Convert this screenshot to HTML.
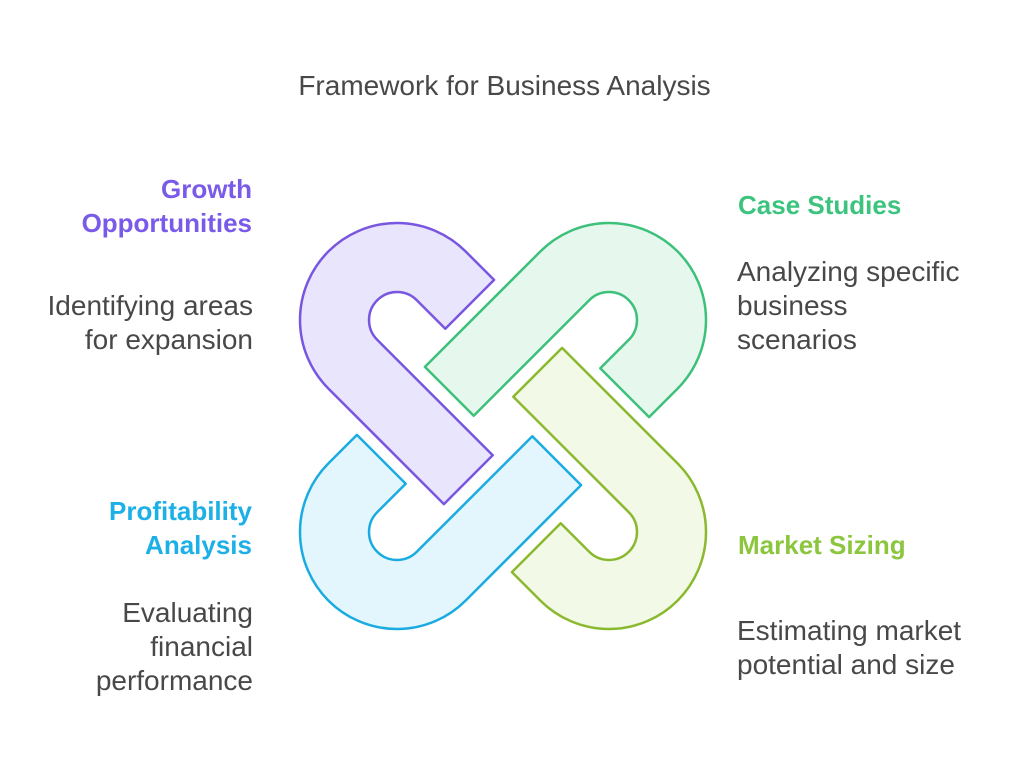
<!DOCTYPE html>
<html>
<head>
<meta charset="utf-8">
<style>
  html, body { margin: 0; padding: 0; background: #ffffff; }
  body { width: 1024px; height: 769px; overflow: hidden; }
  svg { display: block; }
  .t { font-family: "Liberation Sans", Arial, sans-serif; }
  .d { font-size: 28px; fill: #484848; }
  .h { font-size: 26px; font-weight: bold; }
</style>
</head>
<body>
<svg width="1024" height="769" viewBox="0 0 1024 769" xmlns="http://www.w3.org/2000/svg">
  <defs>
    <path id="link" d="M 494.09 279.91 L 465.59 251.41 A 97 97 0 0 0 328.41 388.59 L 443.91 504.09 L 492.70 455.30 L 377.20 339.80 A 28 28 0 0 1 416.80 300.20 L 445.30 328.70 Z"/>
  </defs>

  <!-- Purple (top-left) -->
  <use href="#link" fill="#e9e5fd" stroke="#7856e0" stroke-width="2.5" stroke-linejoin="round"/>
  <!-- Green (top-right) -->
  <use href="#link" transform="rotate(90 503 426)" fill="#e6f8ee" stroke="#3dc07a" stroke-width="2.5" stroke-linejoin="round"/>
  <!-- Lime (bottom-right) -->
  <use href="#link" transform="rotate(180 503 426)" fill="#f2f9e6" stroke="#8ab92f" stroke-width="2.5" stroke-linejoin="round"/>
  <!-- Blue (bottom-left) -->
  <use href="#link" transform="rotate(-90 503 426)" fill="#e3f6fd" stroke="#1aabe0" stroke-width="2.5" stroke-linejoin="round"/>

  <!-- Title -->
  <text class="t" x="504.5" y="95" font-size="28" fill="#484848" text-anchor="middle">Framework for Business Analysis</text>

  <!-- Growth Opportunities -->
  <text class="t h" x="252" y="198" fill="#7a5ae8" text-anchor="end">Growth</text>
  <text class="t h" x="252" y="232" fill="#7a5ae8" text-anchor="end">Opportunities</text>
  <text class="t d" x="253" y="315" text-anchor="end">Identifying areas</text>
  <text class="t d" x="253" y="349" text-anchor="end">for expansion</text>

  <!-- Case Studies -->
  <text class="t h" x="738" y="214" fill="#3cc47f">Case Studies</text>
  <text class="t d" x="737" y="281">Analyzing specific</text>
  <text class="t d" x="737" y="315">business</text>
  <text class="t d" x="737" y="349">scenarios</text>

  <!-- Profitability Analysis -->
  <text class="t h" x="252" y="520" fill="#1cb0e6" text-anchor="end">Profitability</text>
  <text class="t h" x="252" y="554" fill="#1cb0e6" text-anchor="end">Analysis</text>
  <text class="t d" x="253" y="622" text-anchor="end">Evaluating</text>
  <text class="t d" x="253" y="656" text-anchor="end">financial</text>
  <text class="t d" x="253" y="690" text-anchor="end">performance</text>

  <!-- Market Sizing -->
  <text class="t h" x="738" y="554" fill="#8cc63f">Market Sizing</text>
  <text class="t d" x="737" y="640">Estimating market</text>
  <text class="t d" x="737" y="674">potential and size</text>
</svg>
</body>
</html>
